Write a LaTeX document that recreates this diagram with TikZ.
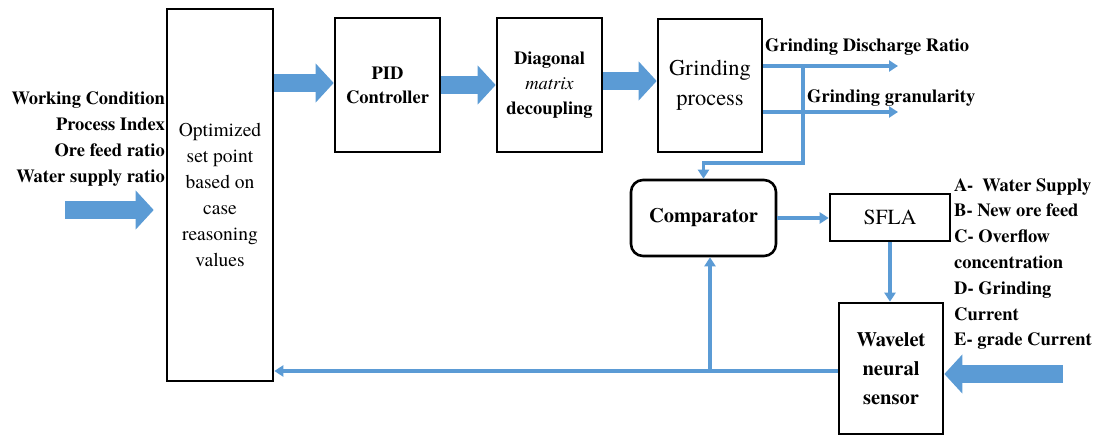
\documentclass[tikz,border=0pt]{standalone}
\usepackage{fontspec}
\setmainfont{texgyretermes}[Extension=.otf,UprightFont=*-regular,BoldFont=*-bold,ItalicFont=*-italic,BoldItalicFont=*-bolditalic]
\usetikzlibrary{arrows.meta,calc}
\definecolor{flowblue}{HTML}{5B9BD5}
\begin{document}
\begin{tikzpicture}[x=1pt,y=-1pt,
  box/.style={draw=black,line width=2.6pt,align=center,inner sep=0pt},
  fat/.style={draw=flowblue,line width=18pt,-{Triangle[width=38pt,length=18pt]}},
  thin/.style={draw=flowblue,line width=3.2pt,-{Triangle[width=11pt,length=9pt]}},
  lbl/.style={font=\fontsize{18.5}{26}\selectfont\bfseries,inner sep=0pt}
]
\useasboundingbox (0,0) rectangle (1098,435);

% blocks
\node[box,minimum width=106pt,minimum height=372pt,font=\fontsize{19.5}{26}\selectfont] (opt) at (220,195)
  {Optimized\\set point\\based on\\case\\reasoning\\values};
\node[box,minimum width=105pt,minimum height=134pt,font=\fontsize{18.5}{24}\selectfont\bfseries] (pid) at (387.5,85)
  {PID\\Controller};
\node[box,minimum width=105pt,minimum height=134pt,font=\fontsize{18.5}{25}\selectfont\bfseries] (diag) at (549.5,85)
  {Diagonal\\{\mdseries\itshape matrix}\\decoupling};
\node[box,minimum width=104pt,minimum height=133pt,font=\fontsize{22.5}{30}\selectfont] (grind) at (710,85.5)
  {Grinding\\process};
\node[box,rounded corners=12pt,minimum width=145pt,minimum height=76pt,font=\fontsize{20.5}{24}\selectfont\bfseries] (comp) at (703.5,218)
  {Comparator};
\node[box,minimum width=120pt,minimum height=47pt,font=\fontsize{21.5}{24}\selectfont] (sfla) at (890,217.5)
  {SFLA};
\node[box,minimum width=104pt,minimum height=131pt,font=\fontsize{20.5}{29}\selectfont\bfseries] (wav) at (891,368.5)
  {Wavelet\\neural\\sensor};

% text labels
\node[lbl,anchor=west] (gdr) at (765,47) {Grinding Discharge Ratio};
\node[lbl,anchor=west] (gg) at (807,98) {Grinding granularity};
\node[lbl,anchor=east,align=right] (inputs) at (165,139)
  {Working Condition\\Process Index\\Ore feed ratio\\Water supply ratio};
\node[lbl,anchor=west,align=left,font=\fontsize{18.5}{25.8}\selectfont\bfseries] (vars) at (954,264)
  {A-\ \ Water Supply\\B- New ore feed\\C- Overflow\\concentration\\D- Grinding\\Current\\E- grade Current};

% wide block arrows
\draw[fat] (opt.east |- 0,83) -- (pid.west |- 0,83);
\draw[fat] (pid.east |- 0,85) -- (diag.west |- 0,85);
\draw[fat] (diag.east |- 0,81) -- (grind.west |- 0,81);
\coordinate (inL) at (65,210);
\draw[fat,shorten >=12pt] (inL) -- (inL -| opt.west);
\coordinate (inR) at (1063,374);
\draw[fat] (inR) -- (inR -| wav.east);

% process outputs and feedback to comparator
\coordinate (o1) at (898,66);
\coordinate (o2) at (898,112);
\draw[thin] (grind.east |- o1) -- (o1);
\draw[thin] (grind.east |- o2) -- (o2);
\coordinate (b1) at (803,66);
\coordinate (b2) at (803,163);
\draw[thin] (b1) -- (b2) -| (comp.north);

% optimisation loop
\draw[thin] (comp.east) -- (comp.east -| sfla.west);
\draw[thin] (sfla.south) -- (sfla.south |- wav.north);
\coordinate (fb) at (710,371);
\draw[thin] (wav.west |- fb) -- (opt.east |- fb);
\draw[thin] (fb) -- (fb |- comp.south);
\end{tikzpicture}
\end{document}
